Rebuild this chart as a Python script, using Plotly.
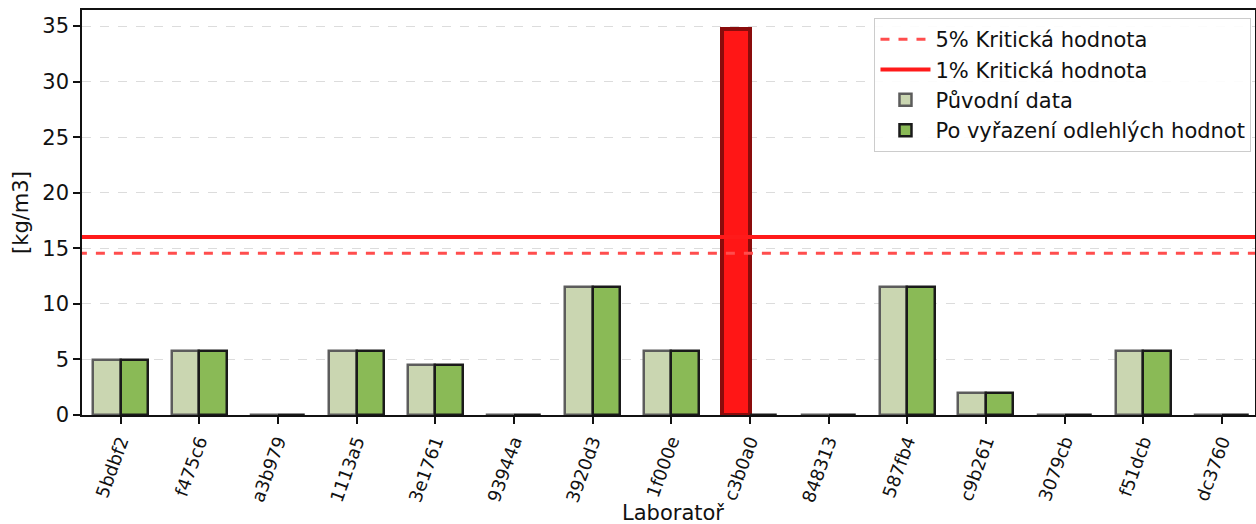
import plotly.graph_objects as go

labs = ["5bdbf2", "f475c6", "a3b979", "1113a5", "3e1761", "93944a", "3920d3", "1f000e",
        "c3b0a0", "848313", "587fb4", "c9b261", "3079cb", "f51dcb", "dc3760"]
original = [4.95, 5.76, 0, 5.76, 4.5, 0, 11.52, 5.76, 34.7, 0, 11.52, 1.98, 0, 5.76, 0]
cleaned = [4.95, 5.76, 0, 5.76, 4.5, 0, 11.52, 5.76, 0, 0, 11.52, 1.98, 0, 5.76, 0]
outlier = [False, False, False, False, False, False, False, False, True, False, False, False, False, False, False]
crit5 = 14.55
crit1 = 16.02
x_title = "Laboratoř"
y_title = "[kg/m3]"

xi = list(range(len(labs)))
w = 0.35
fill_orig = ["#ff1616" if o else "#cad6b1" for o in outlier]
edge_orig = ["#8a0c0c" if o else "#5c5c5c" for o in outlier]
edge_w = [4 if o else 2.5 for o in outlier]

fig = go.Figure()
fig.add_trace(go.Scatter(x=[-1, len(labs)], y=[crit5, crit5], mode="lines",
                         line=dict(color="#ff4d4d", width=3, dash="dash"),
                         name="5% Kritická hodnota"))
fig.add_trace(go.Scatter(x=[-1, len(labs)], y=[crit1, crit1], mode="lines",
                         line=dict(color="#ff1a1a", width=4),
                         name="1% Kritická hodnota"))
fig.add_trace(go.Bar(x=[i - w / 2 for i in xi], y=original, width=w,
                     marker=dict(color=fill_orig, line=dict(color=edge_orig, width=edge_w)),
                     name="Původní data"))
fig.add_trace(go.Bar(x=[i + w / 2 for i in xi], y=cleaned, width=w,
                     marker=dict(color="#8aba56", line=dict(color="#1a1a1a", width=2.5)),
                     name="Po vyřazení odlehlých hodnot"))

font = "DejaVu Sans"
fig.update_layout(
    width=1256, height=524,
    margin=dict(l=82, r=1, t=10, b=109),
    plot_bgcolor="white", paper_bgcolor="white",
    font=dict(family=font, size=21, color="#111"),
    barmode="overlay", bargap=0,
    showlegend=True,
    legend=dict(x=0.997, y=0.98, xanchor="right", yanchor="top",
                bgcolor="rgba(255,255,255,0.9)", bordercolor="#cccccc", borderwidth=1,
                font=dict(size=21), tracegroupgap=0, itemwidth=50),
    xaxis=dict(range=[-0.49, 14.42], tickmode="array", tickvals=xi, ticktext=labs,
               tickangle=-70, ticks="outside", ticklen=7, tickcolor="#111", tickwidth=1.5,
               showline=True, linecolor="#111", linewidth=1.5, mirror=True,
               showgrid=False, zeroline=False, automargin=False,
               tickfont=dict(size=18)),
    yaxis=dict(range=[0, 36.45], tickvals=[0, 5, 10, 15, 20, 25, 30, 35],
               ticks="outside", ticklen=7, tickcolor="#111", tickwidth=1.5,
               showline=True, linecolor="#111", linewidth=1.5, mirror=True,
               showgrid=True, gridcolor="#dcdcdc", griddash="dash", gridwidth=1,
               zeroline=False, automargin=False,
               title=dict(text=y_title, font=dict(size=21), standoff=8),
               tickfont=dict(size=21)),
    annotations=[dict(text=x_title, xref="paper", yref="paper", x=0.504, y=-0.243,
                      xanchor="center", yanchor="middle", showarrow=False,
                      font=dict(size=21, family=font, color="#111"))],
)
fig.write_html("out.html", config={"displayModeBar": False},
               post_script="document.body.style.margin='0';document.body.style.overflow='hidden';")
